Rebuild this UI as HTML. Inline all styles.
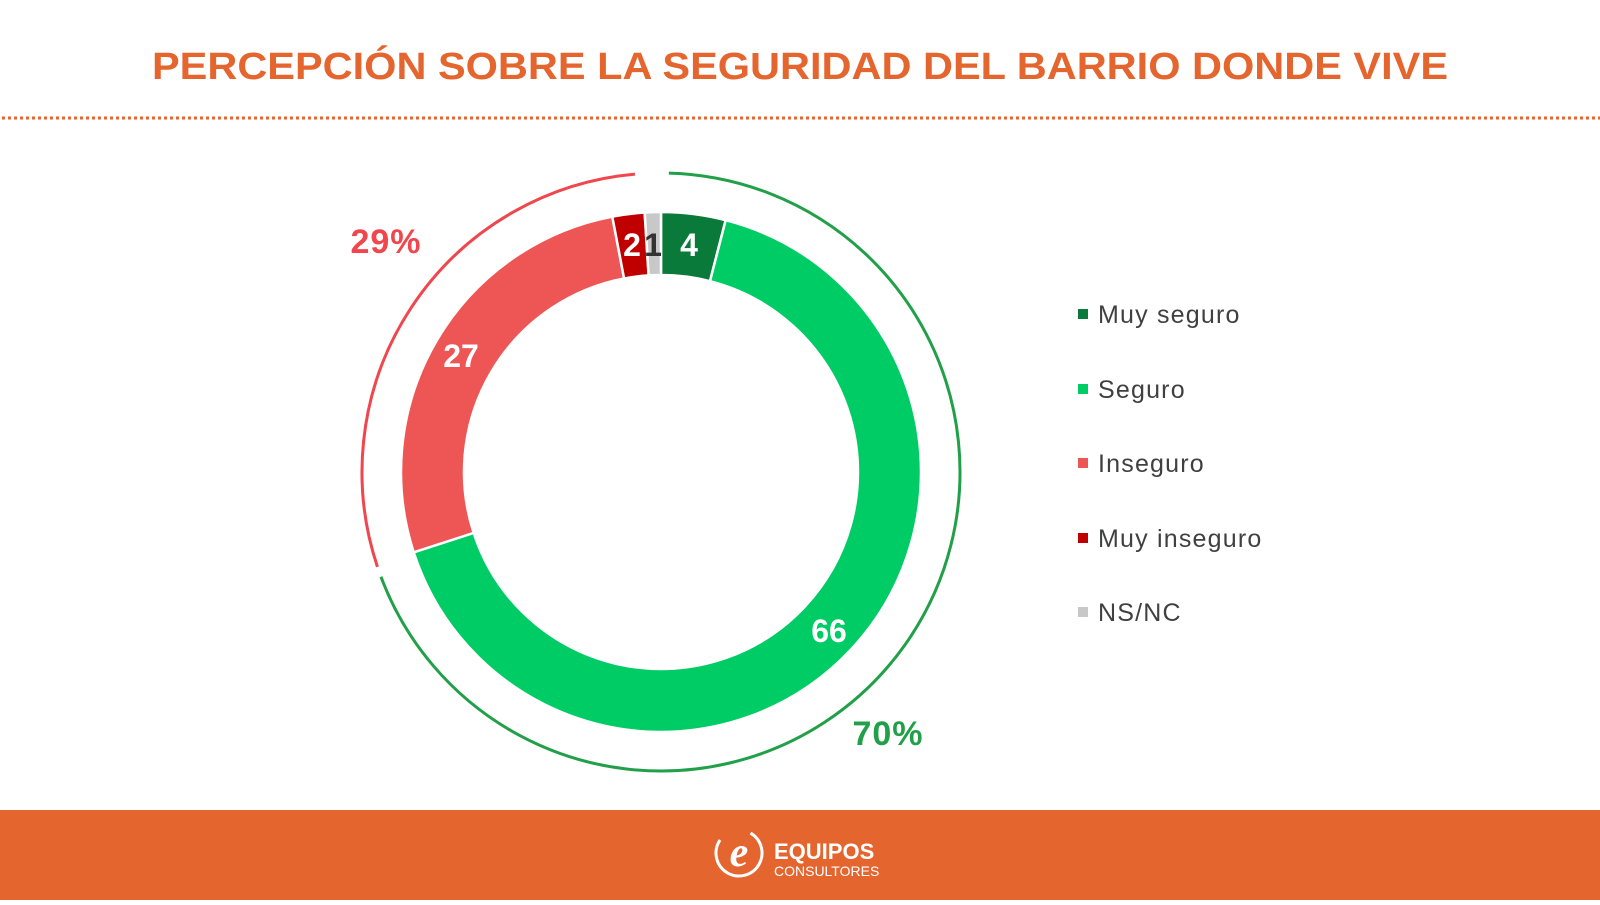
<!DOCTYPE html>
<html><head><meta charset="utf-8"><style>
body{margin:0;width:1600px;height:900px;background:#fff;overflow:hidden;font-family:"Liberation Sans",sans-serif}
</style></head><body>
<svg id="s" width="1600" height="900" xmlns="http://www.w3.org/2000/svg">
<text x="800" y="79" text-anchor="middle" font-size="38" font-weight="bold" fill="#E5652F" textLength="1296" lengthAdjust="spacingAndGlyphs">PERCEPCIÓN SOBRE LA SEGURIDAD DEL BARRIO DONDE VIVE</text>
<line x1="2" y1="118" x2="1600" y2="118" stroke="#E5652F" stroke-width="3" stroke-dasharray="3,3"/>
<g id="d"></g>
<text x="386" y="253" text-anchor="middle" font-size="34" font-weight="bold" fill="#F0464D" letter-spacing="1">29%</text>
<text x="888" y="745" text-anchor="middle" font-size="34" font-weight="bold" fill="#22A049" letter-spacing="1">70%</text>
<g font-size="32" font-weight="bold" fill="#fff" text-anchor="middle">
<text x="461" y="367">27</text><text x="829" y="642">66</text>
<text x="632" y="256">2</text><text x="653" y="256" fill="#333">1</text><text x="689" y="256">4</text>
</g>
<g font-size="25" fill="#404040" letter-spacing="1.2">
<rect x="1078" y="309" width="10" height="10" fill="#0A7A3A"/><text x="1098" y="323">Muy seguro</text>
<rect x="1078" y="384" width="10" height="10" fill="#00CC66"/><text x="1098" y="398">Seguro</text>
<rect x="1078" y="458" width="10" height="10" fill="#EE5555"/><text x="1098" y="472">Inseguro</text>
<rect x="1078" y="533" width="10" height="10" fill="#C00000"/><text x="1098" y="547">Muy inseguro</text>
<rect x="1078" y="607" width="10" height="10" fill="#C8C8C8"/><text x="1098" y="621">NS/NC</text>
</g>
<rect x="0" y="810" width="1600" height="90" fill="#E5652F"/>
<circle cx="739" cy="853" r="23" fill="none" stroke="#fff" stroke-width="3" stroke-dasharray="110,200" transform="rotate(-60 739 853)"/>
<text x="739" y="866" text-anchor="middle" font-family="Liberation Serif" font-style="italic" font-weight="bold" font-size="42" fill="#fff">e</text>
<text x="774" y="859" font-size="22" font-weight="bold" fill="#fff">EQUIPOS</text>
<text x="774" y="876" font-size="14" fill="#fff">CONSULTORES</text>
</svg>
<script>
var cx=661,cy=472,R=260,r=197,g=document.getElementById('d'),ns='http://www.w3.org/2000/svg';
function pt(a,rad){a=a*Math.PI/180;return [cx+rad*Math.sin(a),cy-rad*Math.cos(a)];}
var data=[[4,'#0A7A3A'],[66,'#00CC66'],[27,'#EE5555'],[2,'#C00000'],[1,'#C8C8C8']],a=0;
data.forEach(function(d){var a2=a+d[0]*3.6,l=(a2-a)>180?1:0;
var p1=pt(a,R),p2=pt(a2,R),p3=pt(a2,r),p4=pt(a,r);
var p=document.createElementNS(ns,'path');
p.setAttribute('d','M'+p1+'A'+R+','+R+' 0 '+l+' 1 '+p2+'L'+p3+'A'+r+','+r+' 0 '+l+' 0 '+p4+'Z');
p.setAttribute('fill',d[1]);p.setAttribute('stroke','#fff');p.setAttribute('stroke-width','2.5');g.appendChild(p);a=a2;});
function arc(a1,a2,c){var R2=299,p1=pt(a1,R2),p2=pt(a2,R2),l=(a2-a1)>180?1:0;
var p=document.createElementNS(ns,'path');p.setAttribute('d','M'+p1+'A299,299 0 '+l+' 1 '+p2);
p.setAttribute('fill','none');p.setAttribute('stroke',c);p.setAttribute('stroke-width','3');g.appendChild(p);}
arc(1.5,249.5,'#22A049');arc(251.5,355,'#F0464D');
</script>
</body></html>
